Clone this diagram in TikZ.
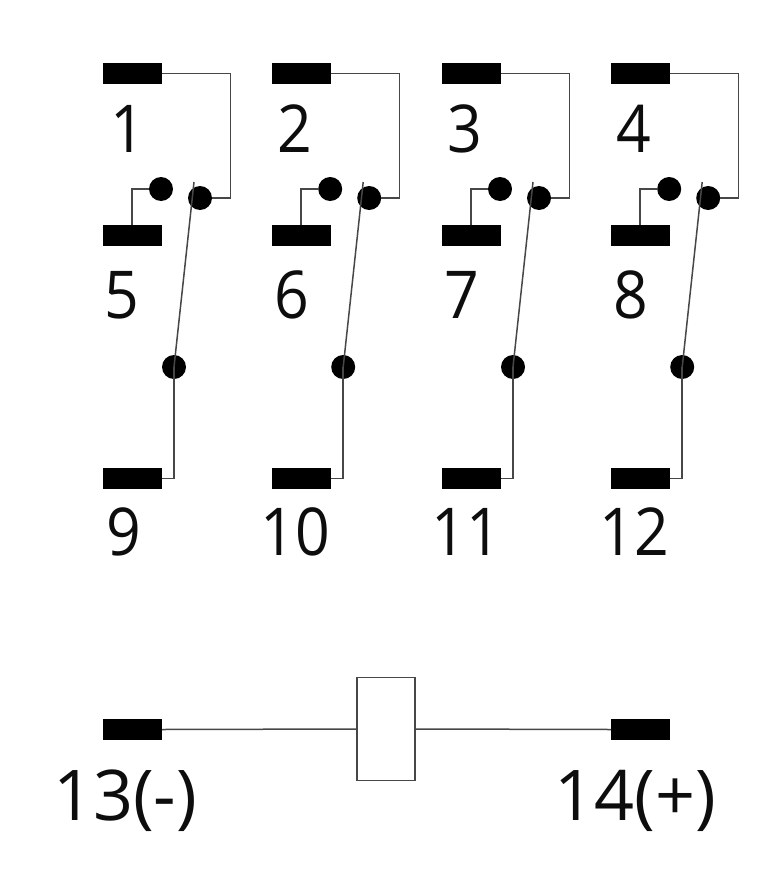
\documentclass[tikz,border=0pt]{standalone}
\usepackage{fontspec}
\setmainfont{Open Sans}
\begin{document}
\begin{tikzpicture}[x=1pt,y=-1pt,
  term/.style={fill=black,draw=none,minimum width=59pt,minimum height=21pt,inner sep=0pt,outer sep=0pt},
  contact/.style={circle,fill=black,draw=none,minimum size=24pt,inner sep=0pt,outer sep=0pt},
  wire/.style={draw=black!72,line width=1.5pt},
  lbl/.style={anchor=base,inner sep=0pt,font=\fontsize{66}{66}\selectfont,text=black!95,xscale=.92},
  biglbl/.style={anchor=base,inner sep=0pt,font=\fontsize{70}{70}\selectfont,text=black!95}]
\useasboundingbox (0,0) rectangle (772,870);
\foreach \i/\dx/\a/\b/\c/\xa/\xb/\xc in {1/0/1/5/9/128/122/124,
    2/169.2/2/6/10/295/292/295,
    3/339/3/7/11/465/462/466,
    4/508.2/4/8/12/634/631/634}{
  \node[term] (top\i) at (132.5+\dx,73.5) {};
  \node[term] (mid\i) at (132.5+\dx,235.5) {};
  \node[term] (bot\i) at (132.5+\dx,478.5) {};
  \node[contact] (nc\i) at (161+\dx,189) {};
  \node[contact] (no\i) at (200+\dx,198) {};
  \node[contact] (pv\i) at (174+\dx,367) {};
  \coordinate (tip\i) at (194+\dx,182);
  \coordinate (rt\i) at (230.3+\dx,198);
  \coordinate (lf\i) at (132+\dx,189);
  \draw[wire] (top\i.east) -| (rt\i) -- (no\i.east);
  \draw[wire] (nc\i.west) -- (lf\i) -- (lf\i |- mid\i.north);
  \draw[wire] (pv\i.center) -- (tip\i);
  \draw[wire] (pv\i.center) |- (bot\i.east);
  \node[lbl] (la\i) at (\xa,152) {\a};
  \node[lbl] (lb\i) at (\xb,318) {\b};
  \node[lbl] (lc\i) at (\xc,555) {\c};
}
\node[term] (t13) at (132.5,729.5) {};
\node[term] (t14) at (640.5,729.5) {};
\node[draw=black!72,line width=1.5pt,minimum width=58pt,minimum height=103pt,inner sep=0pt,outer sep=0pt] (coil) at (386,729) {};
\draw[wire] (t13.east) -- (coil.west);
\draw[wire] (coil.east) -- (t14.west);
\node[biglbl] (l13) at (125,820) {13(-)};
\node[biglbl] (l14) at (635.5,820) {14(+)};
\end{tikzpicture}
\end{document}
